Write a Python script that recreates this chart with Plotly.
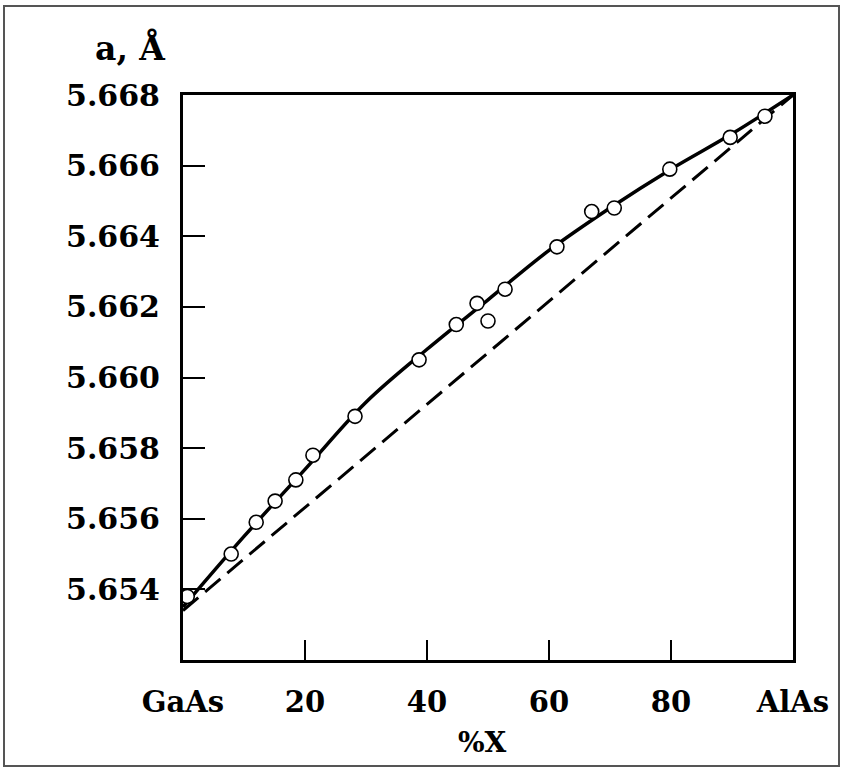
import plotly.graph_objects as go

# Measured lattice constants (open circles)
x_pts = [0.7, 7.9, 12.0, 15.1, 18.5, 21.3, 28.2, 38.7, 44.8, 48.2, 50.0, 52.8,
         61.3, 67.0, 70.7, 79.8, 89.7, 95.4]
a_pts = [5.6538, 5.6550, 5.6559, 5.6565, 5.6571, 5.6578, 5.6589, 5.6605, 5.6615,
         5.6621, 5.6616, 5.6625, 5.6637, 5.6647, 5.6648, 5.6659, 5.6668, 5.6674]

# Solid curve through the data
x_fit = [0, 10, 20, 30, 40, 50, 60, 70, 80, 90, 100]
a_fit = [5.6535, 5.6555, 5.6574, 5.6593, 5.6608, 5.6622, 5.6636, 5.6648, 5.6659,
         5.6669, 5.6680]

# Dashed straight line (Vegard's law)
x_veg = [0, 100]
a_veg = [5.6534, 5.6680]

x_tickvals = [0, 20, 40, 60, 80, 100]
x_ticktext = ["GaAs", "20", "40", "60", "80", "AlAs"]
y_tickvals = [5.654, 5.656, 5.658, 5.660, 5.662, 5.664, 5.666, 5.668]

FONT = "DejaVu Serif"

fig = go.Figure()
fig.add_trace(go.Scatter(x=x_veg, y=a_veg, mode="lines",
                         line=dict(color="black", width=3, dash="20px,9px"),
                         showlegend=False))
fig.add_trace(go.Scatter(x=x_fit, y=a_fit, mode="lines",
                         line=dict(color="black", width=3.5, shape="spline"),
                         showlegend=False))
fig.add_trace(go.Scatter(x=x_pts, y=a_pts, mode="markers",
                         marker=dict(symbol="circle", size=14, color="white",
                                     line=dict(color="black", width=1.6)),
                         showlegend=False))

L, R, T, B = 183, 50, 95, 110
W, H = 843, 770
pw, ph = W - L - R, H - T - B

def px(xp):
    return (xp - L) / pw

def py(yp):
    return (H - B - yp) / ph

fig.update_layout(
    width=W, height=H,
    margin=dict(l=L, r=R, t=T, b=B),
    paper_bgcolor="white", plot_bgcolor="white",
    font=dict(family=FONT, size=30, color="black", weight="bold"),
    xaxis=dict(range=[0, 100], tickvals=x_tickvals, ticktext=x_ticktext,
               ticks="inside", ticklen=20, tickwidth=2, tickcolor="black",
               showline=True, linecolor="black", linewidth=3, mirror=True,
               showgrid=False, zeroline=False, ticklabelstandoff=14,
               tickfont=dict(family=FONT, size=29, color="black", weight="bold")),
    yaxis=dict(range=[5.652, 5.668], tickvals=y_tickvals, tickformat=".3f",
               ticks="inside", ticklen=22, tickwidth=2, tickcolor="black",
               showline=True, linecolor="black", linewidth=3, mirror=True,
               showgrid=False, zeroline=False, ticklabelstandoff=14,
               tickfont=dict(family=FONT, size=30, color="black", weight="bold")),
    annotations=[
        dict(text="a, Å", x=px(130), y=py(48), xref="paper", yref="paper",
             showarrow=False, xanchor="center", yanchor="middle",
             font=dict(family=FONT, size=33, color="black", weight="bold")),
        dict(text="%X", x=px(482), y=py(742), xref="paper", yref="paper",
             showarrow=False, xanchor="center", yanchor="middle",
             font=dict(family=FONT, size=28, color="black", weight="bold")),
    ],
    shapes=[
        dict(type="rect", xref="paper", yref="paper",
             x0=px(4), x1=px(839), y0=py(766), y1=py(6),
             line=dict(color="#555555", width=2), fillcolor="rgba(0,0,0,0)",
             layer="below"),
    ],
)

fig.write_html("out.html")
